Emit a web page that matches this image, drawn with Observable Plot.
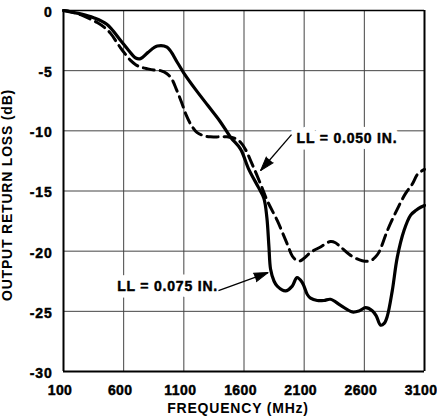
<!DOCTYPE html>
<html><head><meta charset="utf-8">
<script src="https://cdn.jsdelivr.net/npm/d3@7"></script>
<script src="https://cdn.jsdelivr.net/npm/@observablehq/plot@0.6"></script>
<style>
body{margin:0;background:#fff}
svg text{font-weight:bold}
g[aria-label="x-axis tick label"] text, g[aria-label="y-axis tick label"] text, g[aria-label="axis title"] text{stroke:#000;stroke-width:0.45px}
g[aria-label="x-axis tick label"] text{letter-spacing:0.4px}
</style>
</head><body><div id="chart"></div>
<script>
// LL = 0.075 IN. (solid)
const freqSolid = [100,160,250,350,460,575,640,700,740,800,880,960,1045,1100,1200,1300,1400,1490,1570,1640,1720,1765,1790,1807,1821,1850,1876,1945,2001,2040,2084,2126,2153,2209,2264,2319,2403,2500,2560,2610,2666,2700,2735,2765,2791,2832,2874,2929,2985,3030,3068,3100];
const lossSolid = [0,-0.12,-0.3,-0.6,-1.15,-2.5,-3.3,-3.95,-4.0,-3.5,-2.95,-3.05,-4.3,-5.2,-6.6,-7.9,-9.2,-10.55,-11.5,-13.2,-14.7,-15.6,-17.2,-19.6,-21.5,-22.5,-22.9,-23.3,-22.9,-22.2,-22.6,-23.6,-23.9,-24.1,-24.1,-24.0,-24.5,-25.05,-24.95,-24.7,-24.95,-25.4,-26.15,-26.0,-25.4,-23.3,-20.5,-18.3,-17.0,-16.6,-16.35,-16.2];
// LL = 0.050 IN. (dashed)
const freqDashed = [100,160,241,320,380,440,491,540,574,620,657,700,740,800,851,906,960,1000,1040,1080,1120,1160,1211,1266,1320,1400,1461,1520,1571,1610,1654,1737,1793,1876,1959,2001,2042,2070,2110,2153,2236,2319,2360,2403,2486,2583,2652,2690,2721,2791,2874,2943,3000,3043,3100];
const lossDashed = [0,-0.1,-0.35,-0.7,-1.0,-1.4,-1.9,-2.6,-3.1,-3.7,-4.15,-4.5,-4.7,-4.85,-4.95,-5.0,-5.25,-5.7,-6.6,-7.6,-8.7,-9.5,-10.15,-10.4,-10.5,-10.5,-10.5,-10.6,-10.95,-11.5,-12.45,-14.4,-15.8,-17.45,-19.4,-20.4,-20.8,-20.8,-20.5,-20.1,-19.65,-19.2,-19.3,-19.65,-20.35,-20.8,-20.8,-20.5,-20.1,-18.3,-16.5,-15.2,-14.4,-13.6,-13.2];

const xTicks = [100,600,1100,1600,2100,2600,3100];
const yTicks = [0,-5,-10,-15,-20,-25,-30];
const yTickLabels = ["0","-5","-10","-15","-20","-25","-30"];
const xTitle = "FREQUENCY (MHz)";
const yTitle = "OUTPUT RETURN LOSS (dB)";

// annotations
const noteText = ["LL = 0.075 IN.", "LL = 0.050 IN."];
const noteX = [546, 2037];
const noteY = [-22.94, -10.67];
const arrowFromX = [1388, 1995];
const arrowFromY = [-23.28, -10.31];
const arrowToX = [1800, 1738];
const arrowToY = [-21.78, -13.3];

const W = 437, H = 418, mL = 63, mR = 13, mT = 10, mB = 47;
const xDomain = [100, 3100], yDomain = [-30, 0];

const solid = freqSolid.map((f, i) => ({f, v: lossSolid[i]}));
const dashed = freqDashed.map((f, i) => ({f, v: lossDashed[i]}));
const notes = noteText.map((t, i) => ({t, x: noteX[i], y: noteY[i]}));
const sx = d3.scaleLinear(xDomain, [mL, W - mR]);
const sy = d3.scaleLinear(yDomain, [H - mB, mT]);
const arrows = arrowFromX.map((_, i) => {
  const dx = sx(arrowToX[i]) - sx(arrowFromX[i]);
  const dy = sy(arrowToY[i]) - sy(arrowFromY[i]);
  return {x1: arrowFromX[i], y1: arrowFromY[i], x2: arrowToX[i], y2: arrowToY[i],
          rot: Math.atan2(dx, -dy) * 180 / Math.PI};
});

const chart = Plot.plot({
  width: W, height: H,
  marginLeft: mL, marginRight: mR, marginTop: mT, marginBottom: mB,
  x: {domain: xDomain},
  y: {domain: yDomain},
  style: {fontFamily: "'Liberation Sans', Arial, sans-serif", fontWeight: "bold", fontSize: "14px", background: "#fff", color: "#000", letterSpacing: "0.8px", overflow: "visible"},
  marks: [
    Plot.ruleX(xTicks, {stroke: "#444", strokeWidth: 1}),
    Plot.ruleY(yTicks, {stroke: "#444", strokeWidth: 1}),
    Plot.ruleX([xDomain[0]], {stroke: "#000", strokeWidth: 2}),
    Plot.ruleX([xDomain[1]], {stroke: "#000", strokeWidth: 2}),
    Plot.ruleY([yDomain[0]], {stroke: "#000", strokeWidth: 2}),
    Plot.ruleY([yDomain[1]], {stroke: "#000", strokeWidth: 1.5}),
    Plot.axisX({ticks: xTicks, tickSize: 0, tickPadding: 14, tickFormat: d => String(d), label: null, dx: -3.5, fontSize: 14, fontWeight: "bold"}),
    Plot.axisY({ticks: yTicks, tickSize: 0, tickPadding: 11, tickFormat: d => yTickLabels[yTicks.indexOf(d)], label: null, dy: 2, fontSize: 14, fontWeight: "bold"}),
    Plot.text([xTitle], {ariaLabel: "axis title", frameAnchor: "bottom", lineAnchor: "middle", textAnchor: "middle", dy: 37, dx: -6, fontSize: 14, fontWeight: "bold"}),
    Plot.text([yTitle], {ariaLabel: "axis title", frameAnchor: "left", rotate: -90, textAnchor: "middle", lineAnchor: "middle", dx: -56, dy: 4, fontSize: 14, fontWeight: "bold"}),
    Plot.text(notes, {x: "x", y: "y", text: "t", textAnchor: "start", fontSize: 14, fontWeight: "bold", fill: "#fff", stroke: "#fff", strokeWidth: 13, strokeLinejoin: "round"}),
    Plot.text(notes, {x: "x", y: "y", text: "t", textAnchor: "start", fontSize: 14, fontWeight: "bold", fill: "#000", stroke: "#000", strokeWidth: 0.45}),
    Plot.line(dashed, {x: "f", y: "v", stroke: "#000", strokeWidth: 3, strokeDasharray: "11,6", curve: "catmull-rom"}),
    Plot.line(solid, {x: "f", y: "v", stroke: "#000", strokeWidth: 3.2, curve: "catmull-rom"}),
    Plot.link(arrows, {x1: "x1", y1: "y1", x2: "x2", y2: "y2", stroke: "#000", strokeWidth: 1.3}),
    Plot.vector(arrows, {x: "x2", y: "y2", rotate: "rot", length: 14, r: 4.5, shape: "spike", anchor: "end", fill: "#000", stroke: "#000", strokeWidth: 1})
  ]
});
document.getElementById("chart").appendChild(chart);
</script>
</body></html>
